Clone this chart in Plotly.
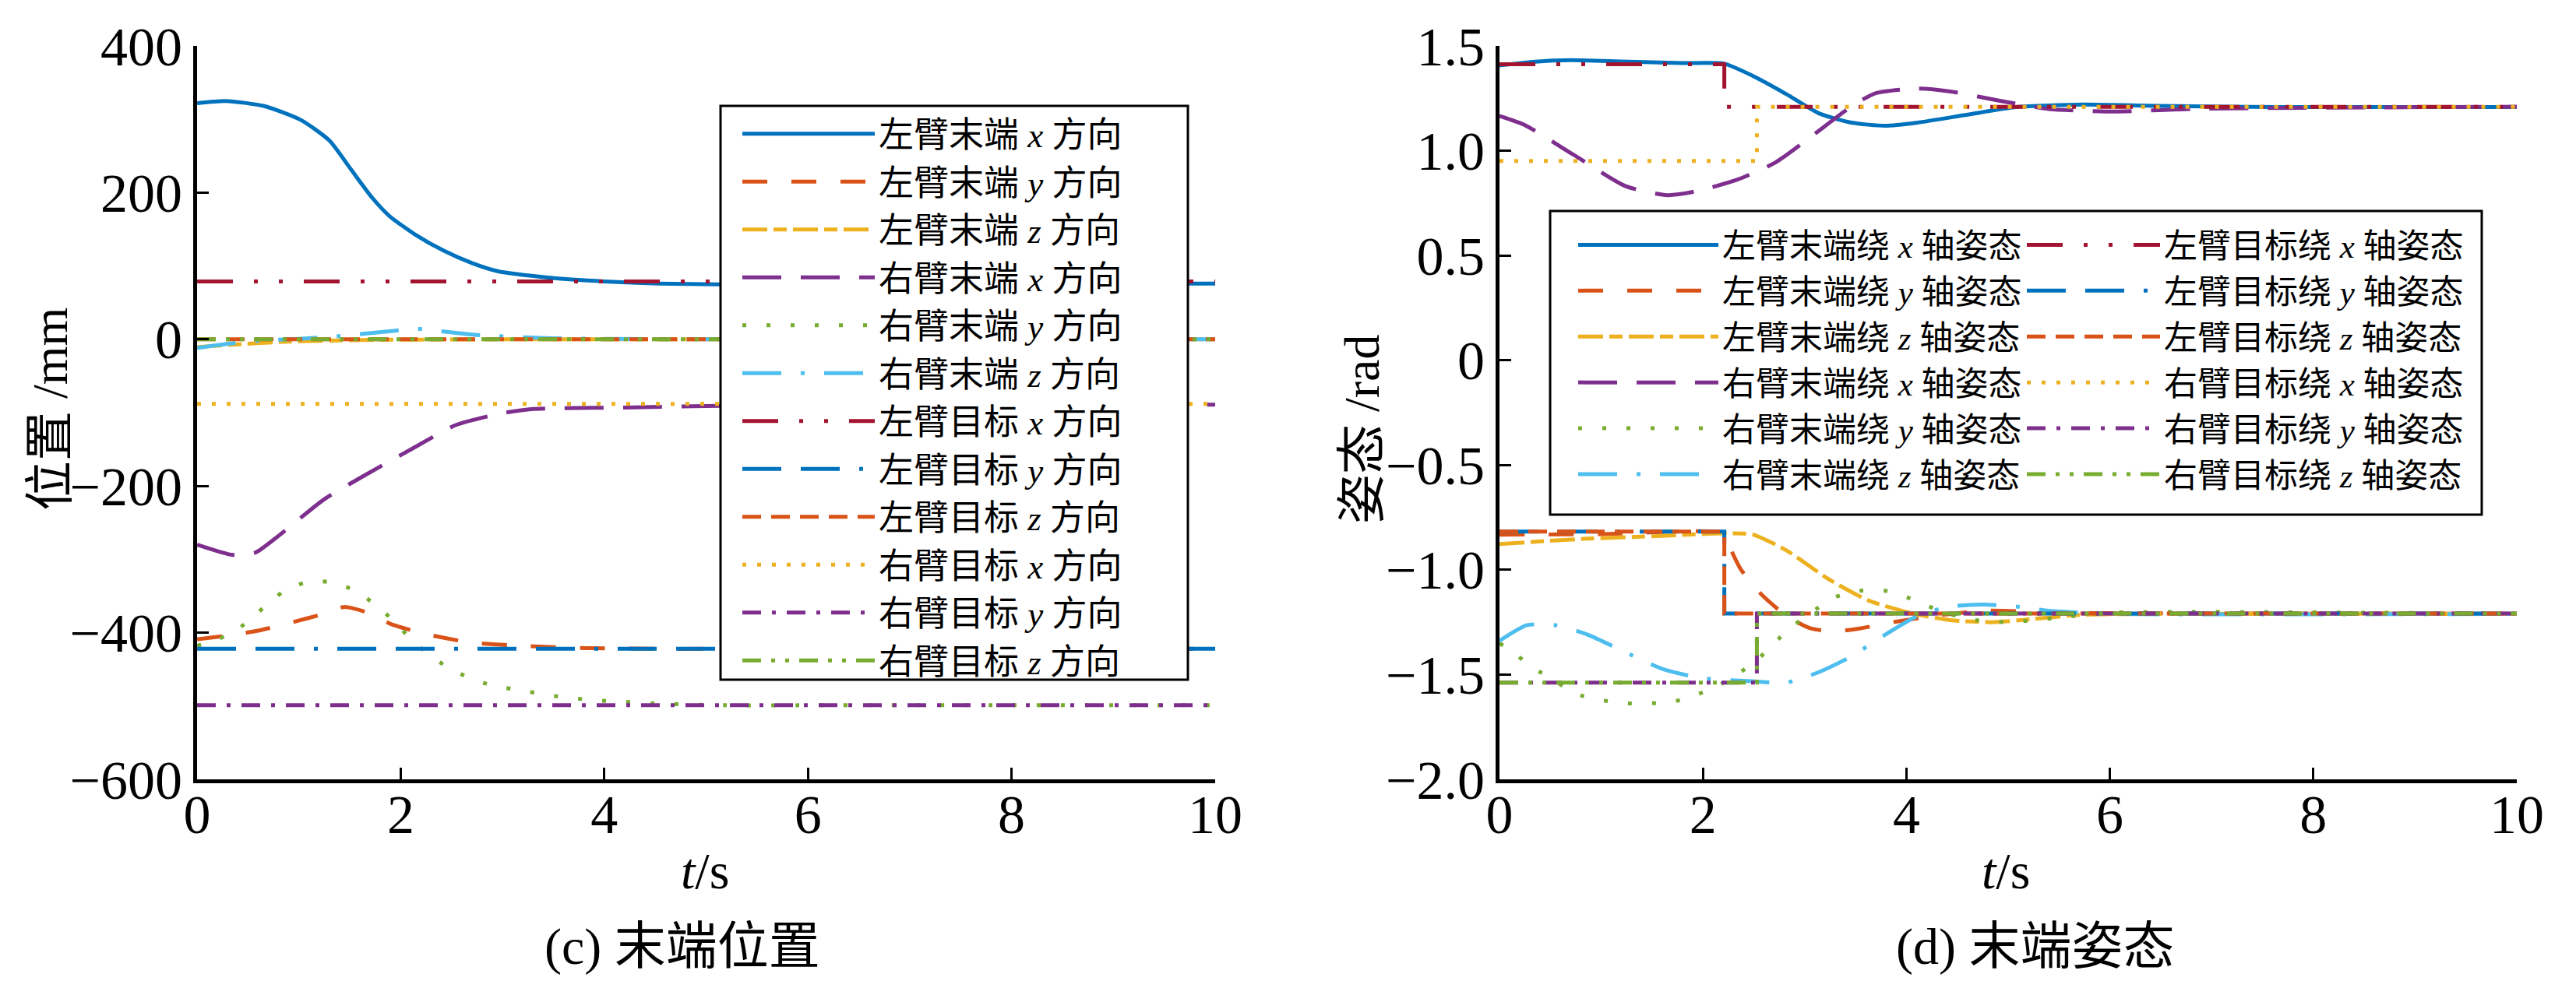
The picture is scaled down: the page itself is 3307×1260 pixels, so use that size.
import plotly.graph_objects as go

fig_w, fig_h = 3307, 1260
serif = 'Liberation Serif, Noto Sans CJK SC, serif'

# MATLAB default line colours
blue = '#0072BD'
orange = '#D95319'
yellow = '#EDB120'
purple = '#7E2F8E'
green = '#77AC30'
cyan = '#4DBEEE'
darkred = '#A2142F'

# ---------------- (c) end position, mm ----------------
t_ticks = [0, 2, 4, 6, 8, 10]
pos_ticks = [-600, -400, -200, 0, 200, 400]

# left arm end, x / y / z
lx_t = [0, 0.28, 0.66, 1.02, 1.30, 1.51, 1.72, 1.89, 2.14, 2.42, 2.70, 2.95, 3.47, 4.0, 4.53, 5.12, 6, 7, 8, 9, 10]
lx_v = [322, 325, 318, 299, 271, 232, 193, 168, 143, 121, 104, 93, 84, 79, 76, 75, 75, 75.5, 76, 76, 76]
ly_t = [0, 0.3, 0.61, 0.93, 1.25, 1.44, 1.64, 1.9, 2.22, 2.67, 3.19, 3.83, 4.5, 5.5, 7, 10]
ly_v = [-409, -404, -397, -386, -374, -365, -371, -388, -401, -413, -418, -421, -422, -422, -422, -422]
lz_t = [0, 0.49, 0.84, 1.2, 1.6, 2.0, 3.0, 5.0, 10]
lz_v = [-10.6, -6, -3.5, -2, -1, -0.5, 0, 0, 0]
# right arm end, x / y / z
rx_t = [0, 0.35, 0.57, 0.8, 1.25, 1.64, 2.09, 2.54, 2.99, 3.3, 4.2, 5, 6, 8, 10]
rx_v = [-280, -294, -291, -268, -218, -186, -151, -117, -101, -95, -93, -91, -90, -89, -89]
ry_t = [0, 0.34, 0.53, 0.7, 0.89, 1.12, 1.35, 1.57, 1.76, 1.94, 2.1, 2.28, 2.47, 2.68, 2.9,
        3.2, 3.44, 3.67, 3.9, 4.15, 4.6, 5.2, 6, 8, 10]
ry_v = [-418, -401, -381, -360, -340, -330, -332, -344, -363, -385, -409, -430, -448, -462, -472,
        -479, -485, -489, -492, -494, -497, -499, -499, -499, -499]
rz_t = [0, 0.31, 0.7, 1.0, 1.37, 1.89, 2.16, 2.4, 2.74, 2.95, 3.47, 4.0, 5.0, 10]
rz_v = [-11.7, -6, -1, 0.7, 4, 11, 14.3, 11, 6, 4.3, 1.4, 0.5, 0, 0]
# targets (constant)
tgt_t = [0, 10]
tlx_v = [79, 79]
tly_v = [-422, -422]
tlz_v = [0, 0]
trx_v = [-88, -88]
try_v = [-499, -499]
trz_v = [0, 0]

pos_names = ['左臂末端 <i>x</i> 方向', '左臂末端 <i>y</i> 方向', '左臂末端 <i>z</i> 方向',
             '右臂末端 <i>x</i> 方向', '右臂末端 <i>y</i> 方向', '右臂末端 <i>z</i> 方向',
             '左臂目标 <i>x</i> 方向', '左臂目标 <i>y</i> 方向', '左臂目标 <i>z</i> 方向',
             '右臂目标 <i>x</i> 方向', '右臂目标 <i>y</i> 方向', '右臂目标 <i>z</i> 方向']

# ---------------- (d) end attitude, rad ----------------
ang_ticks = [-2.0, -1.5, -1.0, -0.5, 0, 0.5, 1.0, 1.5]
ang_ticktext = ['\u22122.0', '\u22121.5', '\u22121.0', '\u22120.5', '0', '0.5', '1.0', '1.5']

ax_t = [0, 0.35, 0.7, 1.2, 1.8, 2.21, 2.49, 2.82, 3.14, 3.46, 3.79, 4.11, 4.6, 5.08, 5.73, 6.46, 7.67, 10]
ax_v = [1.407, 1.425, 1.432, 1.426, 1.418, 1.415, 1.357, 1.27, 1.178, 1.134, 1.119, 1.134, 1.172,
        1.208, 1.22, 1.214, 1.208, 1.208]
ay_t = [0, 1, 2.21, 2.25, 2.37, 2.57, 2.82, 3.06, 3.3, 3.54, 3.87, 4.27, 4.8, 5.5, 10]
ay_v = [-0.832, -0.83, -0.826, -0.877, -0.996, -1.115, -1.22, -1.28, -1.294, -1.28, -1.25, -1.22,
        -1.195, -1.205, -1.21]
az_t = [0, 0.79, 1.6, 2.21, 2.49, 2.82, 3.22, 3.62, 4.03, 4.43, 4.84, 5.24, 5.7, 6.5, 10]
az_v = [-0.877, -0.853, -0.838, -0.826, -0.832, -0.907, -1.04, -1.145, -1.205, -1.24, -1.25,
        -1.235, -1.215, -1.21, -1.21]
bx_t = [0, 0.25, 0.73, 1.24, 1.65, 1.93, 2.34, 2.71, 3.06, 3.47, 3.7, 4.11, 4.43, 4.92, 5.4, 6.05, 6.86, 10]
bx_v = [1.166, 1.122, 0.98, 0.831, 0.788, 0.806, 0.862, 0.943, 1.066, 1.215, 1.275, 1.297, 1.283,
        1.238, 1.199, 1.187, 1.2, 1.21]
by_t = [0, 0.1, 0.35, 0.55, 0.75, 1.0, 1.24, 1.48, 1.72, 1.96, 2.17, 2.37, 2.57, 2.82, 3.06, 3.3,
        3.54, 3.79, 4.0, 4.3, 4.6, 5.0, 5.5, 6, 10]
by_v = [-1.35, -1.383, -1.473, -1.532, -1.592, -1.622, -1.637, -1.637, -1.628, -1.592, -1.547,
        -1.488, -1.413, -1.294, -1.205, -1.13, -1.1, -1.1, -1.13, -1.19, -1.235, -1.25, -1.228,
        -1.205, -1.21]
bz_t = [0, 0.27, 0.55, 0.87, 1.2, 1.6, 2.0, 2.49, 2.82, 3.14, 3.46, 3.79, 4.11, 4.43, 4.76, 5.08,
        5.4, 6, 10]
bz_v = [-1.339, -1.264, -1.264, -1.31, -1.384, -1.473, -1.518, -1.532, -1.538, -1.488, -1.413,
        -1.31, -1.22, -1.175, -1.166, -1.175, -1.196, -1.21, -1.21]
# step targets
left_step_t = [0, 2.21, 2.21, 10]
right_step_t = [0, 2.53, 2.53, 10]
tax_v = [1.413, 1.413, 1.209, 1.209]
tay_v = [-0.818, -0.818, -1.209, -1.209]
taz_v = [-0.818, -0.818, -1.209, -1.209]
tbx_v = [0.951, 0.951, 1.209, 1.209]
tby_v = [-1.538, -1.538, -1.209, -1.209]
tbz_v = [-1.538, -1.538, -1.209, -1.209]

ang_names = ['左臂末端绕 <i>x</i> 轴姿态', '左臂末端绕 <i>y</i> 轴姿态', '左臂末端绕 <i>z</i> 轴姿态',
             '右臂末端绕 <i>x</i> 轴姿态', '右臂末端绕 <i>y</i> 轴姿态', '右臂末端绕 <i>z</i> 轴姿态',
             '左臂目标绕 <i>x</i> 轴姿态', '左臂目标绕 <i>y</i> 轴姿态', '左臂目标绕 <i>z</i> 轴姿态',
             '右臂目标绕 <i>x</i> 轴姿态', '右臂目标绕 <i>y</i> 轴姿态', '右臂目标绕 <i>z</i> 轴姿态']

# line styles, same order as the names
colors = [blue, orange, yellow, purple, green, cyan, darkred, blue, orange, yellow, purple, green]
dashes = ['solid', '32px,31px', '32px,8px,17px,8px', '50px,25px', '5px,26px', '50px,25px,5px,25px',
          '46px,27px,5px,27px,5px,27px', '50px,25px,50px,25px,5px,25px', '24px,13px', '5px,14px',
          '24px,14px,5px,14px', '24px,13px,5px,13px,5px,13px']

fig = go.Figure()

pos_series = [(lx_t, lx_v), (ly_t, ly_v), (lz_t, lz_v), (rx_t, rx_v), (ry_t, ry_v), (rz_t, rz_v),
              (tgt_t, tlx_v), (tgt_t, tly_v), (tgt_t, tlz_v), (tgt_t, trx_v), (tgt_t, try_v), (tgt_t, trz_v)]
for i, (t, v) in enumerate(pos_series):
    fig.add_scatter(x=t, y=v, mode='lines', name=pos_names[i], xaxis='x', yaxis='y', legend='legend',
                    line=dict(color=colors[i], width=5, dash=dashes[i],
                              shape='spline' if i < 6 else 'linear', smoothing=0.6))

ang_series = [(ax_t, ax_v), (ay_t, ay_v), (az_t, az_v), (bx_t, bx_v), (by_t, by_v), (bz_t, bz_v),
              (left_step_t, tax_v), (left_step_t, tay_v), (left_step_t, taz_v),
              (right_step_t, tbx_v), (right_step_t, tby_v), (right_step_t, tbz_v)]
for i, (t, v) in enumerate(ang_series):
    fig.add_scatter(x=t, y=v, mode='lines', name=ang_names[i], xaxis='x2', yaxis='y2',
                    legend='legend2' if i < 6 else 'legend3',
                    line=dict(color=colors[i], width=5, dash=dashes[i],
                              shape='spline' if i < 6 else 'linear', smoothing=0.6))


# pixel position -> paper fraction (margins are zero)
def px(x):
    return x / fig_w


def py(y):
    return 1 - y / fig_h


axis_style = dict(showline=True, linewidth=5, linecolor='black', ticks='inside', ticklen=15,
                  tickwidth=3, tickcolor='black', showgrid=False, zeroline=False, mirror=False,
                  tickfont=dict(family=serif, size=70, color='black'), automargin=False)
legend_style = dict(bgcolor='rgba(0,0,0,0)', borderwidth=0, xanchor='left', yanchor='top',
                    tracegroupgap=0, orientation='v')


def label(text, x, y, size, angle=0):
    return dict(text=text, x=px(x), y=py(y), xref='paper', yref='paper', showarrow=False,
                xanchor='center', yanchor='middle', textangle=angle,
                font=dict(family=serif, size=size, color='black'))


fig.update_layout(
    width=fig_w, height=fig_h,
    margin=dict(l=0, r=0, t=0, b=0, autoexpand=False),
    paper_bgcolor='white', plot_bgcolor='white',
    font=dict(family=serif, color='black'),
    xaxis=dict(axis_style, domain=[px(245), px(1552)], range=[0, 10], tickvals=t_ticks,
               ticklabelstandoff=-20, anchor='y'),
    yaxis=dict(axis_style, domain=[py(993), py(51)], range=[-600, 400], tickvals=pos_ticks, anchor='x'),
    xaxis2=dict(axis_style, domain=[px(1917), px(3223)], range=[0, 10], tickvals=t_ticks,
                ticklabelstandoff=-20, anchor='y2'),
    yaxis2=dict(axis_style, domain=[py(993), py(51)], range=[-2.0, 1.5], tickvals=ang_ticks,
                ticktext=ang_ticktext, anchor='x2'),
    legend=dict(legend_style, x=px(940), y=py(128), itemwidth=170,
                font=dict(family=serif, size=45, color='black')),
    legend2=dict(legend_style, x=px(2013), y=py(272), itemwidth=180,
                 font=dict(family=serif, size=43, color='black')),
    legend3=dict(legend_style, x=px(2589), y=py(272), itemwidth=171,
                 font=dict(family=serif, size=43, color='black')),
    shapes=[
        dict(type='rect', xref='paper', yref='paper', x0=px(917), x1=px(1517), y0=py(865), y1=py(128),
             line=dict(color='black', width=3), fillcolor='white', layer='above'),
        dict(type='rect', xref='paper', yref='paper', x0=px(1982), x1=px(3178), y0=py(653), y1=py(263),
             line=dict(color='black', width=3), fillcolor='white', layer='above'),
    ],
    annotations=[
        label('位置 /mm', 56, 518, 64, -90),
        label('姿态 /rad', 1740, 543, 64, -90),
        label('<i>t</i>/s', 897, 1110, 66),
        label('<i>t</i>/s', 2567, 1110, 66),
        label('(c) 末端位置', 868, 1208, 66),
        label('(d) 末端姿态', 2604, 1208, 66),
    ],
)

fig.write_html('out.html')
